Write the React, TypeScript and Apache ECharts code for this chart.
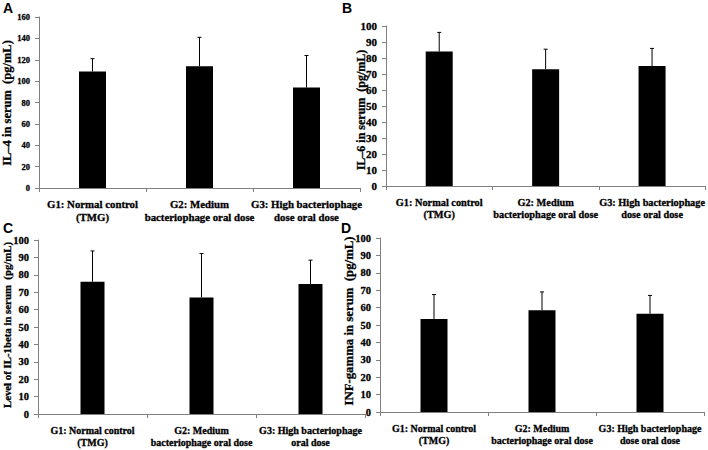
import React, { useEffect, useRef } from "react";
import * as echarts from "echarts";

const catsABD = [
  "G1: Normal control\n(TMG)",
  "G2: Medium\nbacteriophage oral dose",
  "G3: High bacteriophage\ndose oral dose",
];
const catsC = [
  "G1: Normal control\n(TMG)",
  "G2: Medium\nbacteriophage oral dose",
  "G3: High bacteriophage\noral dose",
];

const il4Mean = [109, 114, 94];
const il4Sd = [12, 27, 30];
const il6Mean = [84, 73, 75];
const il6Sd = [12, 12.5, 11];
const il1bMean = [76, 67, 74.7];
const il1bSd = [17.7, 25.2, 13.7];
const infgMean = [53.5, 58.5, 56.5];
const infgSd = [14, 10.5, 10.5];

const titleA = "IL–4 in serum  (pg/mL)";
const titleB = "IL–6 in serum  (pg/mL)";
const titleC = "Level of IL-1beta in serum  (pg/mL)";
const titleD = "INF-gamma in serum  (pg/mL)";

const SERIF = "'Liberation Serif', 'Times New Roman', serif";
const SANS = "'Liberation Sans', Arial, sans-serif";
const AXIS_COLOR = "#808080";

type Panel = {
  grid: { left: number; top: number; width: number; height: number };
  cats: string[];
  mean: number[];
  sd: number[];
  max: number;
  interval: number;
  yFont: number;
  xFont: number;
  barWidth: number;
};

const panels: Panel[] = [
  { grid: { left: 39, top: 17, width: 321, height: 171 }, cats: catsABD, mean: il4Mean, sd: il4Sd, max: 160, interval: 20, yFont: 8.5, xFont: 10.8, barWidth: 27 },
  { grid: { left: 386, top: 26, width: 320, height: 160 }, cats: catsABD, mean: il6Mean, sd: il6Sd, max: 100, interval: 10, yFont: 11, xFont: 10.3, barWidth: 27 },
  { grid: { left: 38, top: 240, width: 327, height: 174 }, cats: catsC, mean: il1bMean, sd: il1bSd, max: 100, interval: 10, yFont: 10.5, xFont: 10, barWidth: 24 },
  { grid: { left: 380, top: 238, width: 324, height: 174 }, cats: catsABD, mean: infgMean, sd: infgSd, max: 100, interval: 10, yFont: 10.5, xFont: 10, barWidth: 27 },
];

const letters = [
  { t: "A", x: 3, y: 1 },
  { t: "B", x: 342, y: 1 },
  { t: "C", x: 3, y: 221 },
  { t: "D", x: 341, y: 221 },
];

const yTitles = [
  { t: titleA, x: 7, y: 103, size: 12.5 },
  { t: titleB, x: 360.5, y: 110, size: 12 },
  { t: titleC, x: 7, y: 325, size: 10.8 },
  { t: titleD, x: 348.5, y: 321, size: 12.8 },
];

const thick = { textBorderColor: "#000", textBorderWidth: 0.3 };

export default function App() {
  const ref = useRef<HTMLDivElement>(null);
  useEffect(() => {
    if (!ref.current) return;
    const chart = echarts.init(ref.current, undefined, { renderer: "svg" });
    const grids = panels.map((p) => ({ ...p.grid, containLabel: false }));
    const xAxes = panels.map((p, i) => ({
      type: "category",
      gridIndex: i,
      data: p.cats,
      boundaryGap: true,
      axisLine: { lineStyle: { color: AXIS_COLOR, width: 1 } },
      axisTick: { show: true, length: 4, lineStyle: { color: AXIS_COLOR } },
      axisLabel: {
        interval: 0,
        margin: 10,
        color: "#000",
        fontFamily: SERIF,
        fontWeight: "bold",
        fontSize: p.xFont,
        lineHeight: 12.5,
        ...thick,
      },
    }));
    const yAxes = panels.map((p, i) => ({
      type: "value",
      gridIndex: i,
      min: 0,
      max: p.max,
      interval: p.interval,
      splitLine: { show: false },
      axisLine: { show: true, lineStyle: { color: AXIS_COLOR, width: 1 } },
      axisTick: { show: true, length: 4, lineStyle: { color: AXIS_COLOR } },
      axisLabel: {
        margin: 9,
        color: "#000",
        fontFamily: SERIF,
        fontWeight: "bold",
        fontSize: p.yFont,
        ...thick,
      },
    }));
    const series: any[] = [];
    panels.forEach((p, i) => {
      series.push({
        type: "bar",
        xAxisIndex: i,
        yAxisIndex: i,
        data: p.mean,
        barWidth: p.barWidth,
        itemStyle: { color: "#000" },
        silent: true,
      });
      series.push({
        type: "custom",
        xAxisIndex: i,
        yAxisIndex: i,
        data: p.mean.map((m, j) => [j, m, p.sd[j]]),
        renderItem: (params: any, api: any) => {
          const x = api.value(0);
          const m = api.value(1);
          const s = api.value(2);
          const p0 = api.coord([x, m]);
          const p1 = api.coord([x, m + s]);
          const st = { stroke: "#000", lineWidth: 1 };
          return {
            type: "group",
            children: [
              { type: "line", shape: { x1: p0[0], y1: p0[1], x2: p1[0], y2: p1[1] }, style: st },
              { type: "line", shape: { x1: p1[0] - 2, y1: p1[1], x2: p1[0] + 2, y2: p1[1] }, style: st },
            ],
          };
        },
        z: 5,
        silent: true,
      });
    });
    const graphic: any[] = [];
    letters.forEach((l) =>
      graphic.push({
        type: "text",
        left: l.x,
        top: l.y,
        style: { text: l.t, fontFamily: SANS, fontWeight: "bold", fontSize: 14, fill: "#000" },
      })
    );
    yTitles.forEach((t) =>
      graphic.push({
        type: "text",
        x: t.x,
        y: t.y,
        rotation: Math.PI / 2,
        style: {
          text: t.t,
          fontFamily: SERIF,
          fontWeight: "bold",
          fontSize: t.size,
          fill: "#000",
          align: "center",
          verticalAlign: "middle",
          stroke: "#000",
          lineWidth: 0.3,
        },
      })
    );
    chart.setOption({
      animation: false,
      backgroundColor: "#fff",
      grid: grids,
      xAxis: xAxes,
      yAxis: yAxes,
      series,
      graphic,
    });
    return () => chart.dispose();
  }, []);
  return (
    <div
      ref={ref}
      style={{ position: "fixed", left: 0, top: 0, width: 708, height: 450, background: "#fff" }}
    />
  );
}
